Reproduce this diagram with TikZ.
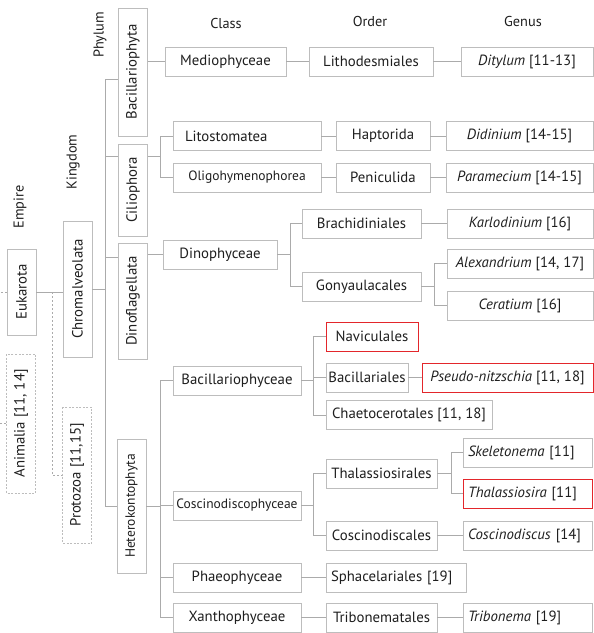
\documentclass[tikz,border=0pt]{standalone}
\usepackage{fontspec}
\setmainfont{PT Sans}
\definecolor{boxgray}{HTML}{BDBDBD}
\definecolor{linegray}{HTML}{ABABAB}
\definecolor{markred}{HTML}{E3262B}
\definecolor{inkgray}{HTML}{1E1E1E}

\begin{document}
\begin{tikzpicture}[x=1pt, y=-1pt, font=\fontsize{14.8}{16}\selectfont, text=inkgray,
  box/.style={draw=boxgray, line width=0.8pt, minimum height=29pt, inner xsep=2pt, inner ysep=0pt},
  vbox/.style={box, rotate=90},
  dbox/.style={vbox, dash pattern=on 2pt off 1.5pt},
  lbox/.style={box, inner xsep=5pt, text width=#1, align=left},
  redbox/.style={draw=markred, line width=1pt},
  small/.style={font=\fontsize{13.5}{15}\selectfont},
  head/.style={font=\fontsize{14.3}{16}\selectfont},
  link/.style={draw=linegray, line width=0.8pt},
  dlink/.style={link, dash pattern=on 2pt off 2pt}]
\useasboundingbox (0,0) rectangle (594,633);
\foreach \lbl/\x/\y in {Class/226/23, Order/370/21, Genus/523/21}
  \node[head] (head\lbl) at (\x,\y) {\lbl};
\foreach \lbl/\x/\y in {Phylum/100/35, Kingdom/73/162, Empire/20/207}
  \node[head, rotate=90] (head\lbl) at (\x,\y) {\lbl};
% empire, kingdom, phylum
\node[vbox, minimum width=86pt] (eukarota) at (21.5,292) {Eukarota};
\node[dbox, minimum width=139pt] (animalia) at (21,423.5) {Animalia [11, 14]};
\node[vbox, minimum width=136pt] (chromalveolata) at (77.5,289) {Chromalveolata};
\node[dbox, minimum width=136pt] (protozoa) at (77,475) {Protozoa [11,15]};
\node[vbox, minimum width=128pt] (bacillariophyta) at (133,72) {Bacillariophyta};
\node[vbox, minimum width=92pt] (ciliophora) at (133,190) {Ciliophora};
\node[vbox, minimum width=116pt] (dinoflagellata) at (133,301) {Dinoflagellata};
\node[vbox, small, minimum width=134pt] (heterokontophyta) at (131.5,506) {Heterokontophyta};
% class
\node[box, minimum width=121pt] (mediophyceae) at (225.5,61.5) {Mediophyceae};
\node[lbox=124pt, inner xsep=12pt] (litostomatea) at (247,136) {Litostomatea};
\node[box, small, minimum width=148pt] (oligohymenophorea) at (247,177.5) {Oligohymenophorea};
\node[box, minimum width=114pt] (dinophyceae) at (220,254.5) {Dinophyceae};
\node[box, minimum width=128pt] (bacillariophyceae) at (237,380.5) {Bacillariophyceae};
\node[box, small, minimum width=128pt] (coscinodiscophyceae) at (237,505.5) {Coscinodiscophyceae};
\node[box, minimum width=128pt] (phaeophyceae) at (237,577.5) {Phaeophyceae};
\node[box, minimum width=128pt] (xanthophyceae) at (237,617.5) {Xanthophyceae};
% order
\node[box, minimum width=124pt] (lithodesmiales) at (371,61.5) {Lithodesmiales};
\node[box, minimum width=94pt] (haptorida) at (383,136) {Haptorida};
\node[box, minimum width=94pt] (peniculida) at (383,177.5) {Peniculida};
\node[box, minimum width=119pt] (brachidiniales) at (361.5,223.5) {Brachidiniales};
\node[box, minimum width=119pt] (gonyaulacales) at (361.5,286.5) {Gonyaulacales};
\node[box, redbox, minimum width=92pt] (naviculales) at (372,336.5) {Naviculales};
\node[box, minimum width=82pt] (bacillariales) at (367,377.5) {Bacillariales};
\node[box, minimum width=166pt] (chaetocerotales) at (409,415) {Chaetocerotales [11, 18]};
\node[box, minimum width=111pt] (thalassiosirales) at (381.5,473.5) {Thalassiosirales};
\node[box, minimum width=111pt] (coscinodiscales) at (381.5,535.5) {Coscinodiscales};
\node[lbox=130pt] (sphacelariales) at (396,577.5) {Sphacelariales [19]};
\node[box, minimum width=111pt] (tribonematales) at (381.5,617.5) {Tribonematales};
% genus
\node[box, minimum width=132pt] (ditylum) at (527,61.5) {\textit{Ditylum} [11-13]};
\node[box, minimum width=147pt] (didinium) at (519.5,136) {\textit{Didinium} [14-15]};
\node[box, minimum width=147pt] (paramecium) at (519.5,177.5) {\textit{Paramecium} [14-15]};
\node[box, minimum width=146pt] (karlodinium) at (520,223.5) {\textit{Karlodinium} [16]};
\node[box, minimum width=146pt] (alexandrium) at (520,263.5) {\textit{Alexandrium} [14, 17]};
\node[box, minimum width=146pt] (ceratium) at (520,305.5) {\textit{Ceratium} [16]};
\node[box, redbox, minimum width=171pt] (pseudonitzschia) at (507.5,377.5) {\textit{Pseudo-nitzschia} [11, 18]};
\node[lbox=119pt] (skeletonema) at (527.5,452.5) {\textit{Skeletonema} [11]};
\node[lbox=119pt, redbox] (thalassiosira) at (527.5,493.5) {\textit{Thalassiosira} [11]};
\node[lbox=119pt] (coscinodiscus) at (527.5,535.5) {\textit{Coscinodiscus} [14]};
\node[lbox=119pt] (tribonema) at (527.5,617.5) {\textit{Tribonema} [19]};
% connectors
\draw[link] (eukarota.south) -- (eukarota.south -| chromalveolata.north);
\draw[dlink] ([xshift=16pt]eukarota.south) |- (protozoa.north);
\draw[dlink] (eukarota.north) -- ++(-7,0);
\draw[dlink] (animalia.north) -- ++(-6,0);
\draw[link] (chromalveolata.south) -- ++(13,0) coordinate (phylumfork);
\draw[link] (phylumfork) |- ([yshift=-7pt]bacillariophyta.north);
\draw[link] (phylumfork) |- ([yshift=34pt]ciliophora.north);
\draw[link] (phylumfork) |- ([yshift=44pt]dinoflagellata.north);
\draw[link] (phylumfork) |- (heterokontophyta.north);
\draw[link] (bacillariophyta.south |- mediophyceae.west) -- (mediophyceae.west);
\draw[link] ([yshift=34pt]ciliophora.south) -- ++(12,0) coordinate (ciliofork);
\draw[link] (ciliofork) |- (litostomatea.west);
\draw[link] (ciliofork) |- (oligohymenophorea.west);
\draw[link] (dinoflagellata.south |- dinophyceae.west) -- (dinophyceae.west);
\draw[link] (heterokontophyta.south) -- ++(14,0) coordinate (classfork);
\foreach \cls in {bacillariophyceae, coscinodiscophyceae, phaeophyceae, xanthophyceae}
  \draw[link] (classfork) |- (\cls.west);
\draw[link] (mediophyceae) -- (lithodesmiales) -- (ditylum);
\draw[link] (litostomatea) -- (haptorida) -- (didinium);
\draw[link] (oligohymenophorea) -- (peniculida) -- (paramecium);
\draw[link] (dinophyceae.east) -- ++(13,0) coordinate (dinofork);
\draw[link] (dinofork) |- (brachidiniales.west);
\draw[link] (dinofork) |- (gonyaulacales.west);
\draw[link] (brachidiniales) -- (karlodinium);
\draw[link] (gonyaulacales.east) -- ++(13,0) coordinate (gonyfork);
\draw[link] (gonyfork) |- (alexandrium.west);
\draw[link] (gonyfork) |- (ceratium.west);
\draw[link] (bacillariophyceae.east) -- ++(12,0) coordinate (bacifork);
\foreach \ord in {naviculales, bacillariales, chaetocerotales}
  \draw[link] (bacifork) |- (\ord.west);
\draw[link] (bacillariales) -- (pseudonitzschia);
\draw[link] (coscinodiscophyceae.east) -- ++(12,0) coordinate (coscifork);
\draw[link] (coscifork) |- (thalassiosirales.west);
\draw[link] (coscifork) |- (coscinodiscales.west);
\draw[link] (thalassiosirales.east) -- ++(14,0) coordinate (thalfork);
\draw[link] (thalfork) |- (skeletonema.west);
\draw[link] (thalfork) |- (thalassiosira.west);
\draw[link] (coscinodiscales) -- (coscinodiscus);
\draw[link] (phaeophyceae) -- (sphacelariales);
\draw[link] (xanthophyceae) -- (tribonematales) -- (tribonema);
\end{tikzpicture}
\end{document}
